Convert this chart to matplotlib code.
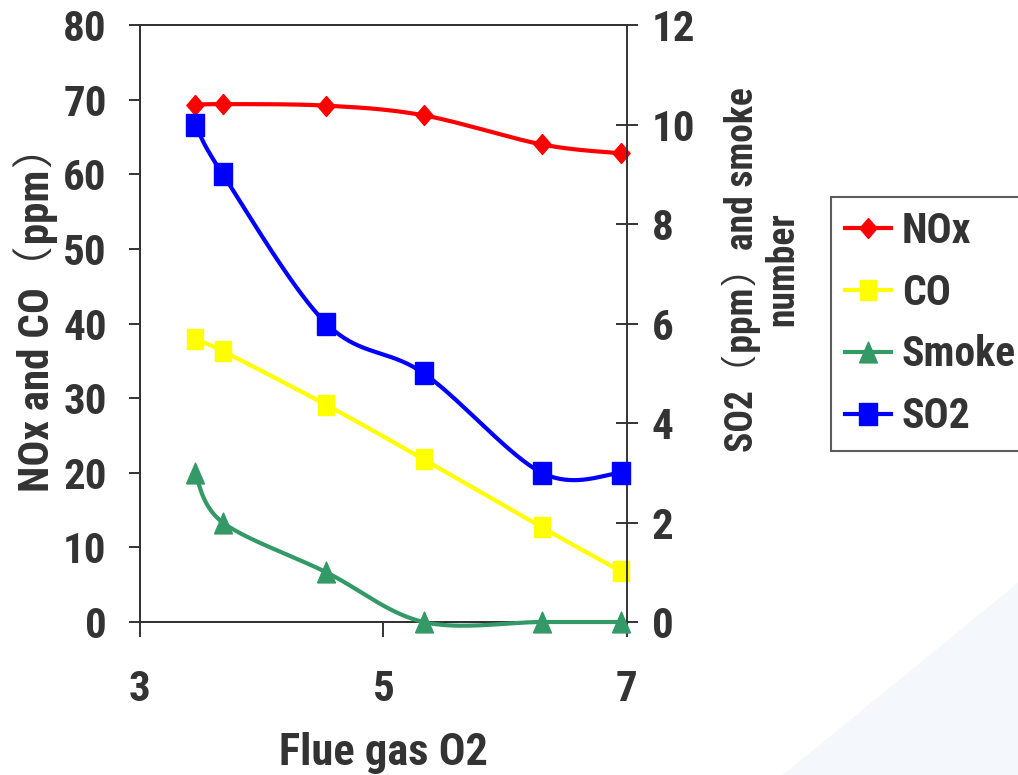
import numpy as np
import matplotlib
matplotlib.use('Agg')
import matplotlib.pyplot as plt
from matplotlib.patches import Polygon

plt.rcParams['font.family'] = ['Roboto Condensed', 'IPAGothic', 'DejaVu Sans']

# data
o2 = [3.45, 3.68, 4.53, 5.33, 6.30, 6.95]
nox = [69.3, 69.4, 69.2, 67.9, 64.0, 62.8]
co = [37.9, 36.3, 29.1, 21.8, 12.7, 6.8]
smoke = [3.0, 2.0, 1.0, 0.0, 0.0, 0.0]
so2 = [10.0, 9.0, 6.0, 5.0, 3.0, 3.0]

left_ticks = list(range(0, 81, 10))
right_ticks = list(range(0, 13, 2))
x_ticks = [3, 5, 7]

ink = '#333333'


def smooth(x, y, n=40):
    # excel style smoothed line (bezier through the points)
    p = np.column_stack([x, y]).astype(float)
    out = []
    t = np.linspace(0, 1, n)[:, None]
    for i in range(len(p) - 1):
        p0 = p[max(i - 1, 0)]
        p1 = p[i]
        p2 = p[i + 1]
        p3 = p[min(i + 2, len(p) - 1)]
        c1 = p1 + (p2 - p0) / 6
        c2 = p2 - (p3 - p1) / 6
        seg = (1 - t) ** 3 * p1 + 3 * (1 - t) ** 2 * t * c1 + 3 * (1 - t) * t ** 2 * c2 + t ** 3 * p2
        out.append(seg if i == 0 else seg[1:])
    s = np.vstack(out)
    return s[:, 0], s[:, 1]


# stretched marker shapes
diamond = [(0, 0.5), (0.43, 0), (0, -0.5), (-0.43, 0), (0, 0.5)]
square = [(-0.41, -0.5), (0.41, -0.5), (0.41, 0.5), (-0.41, 0.5), (-0.41, -0.5)]
tri = [(-0.43, -0.5), (0.43, -0.5), (0, 0.5), (-0.43, -0.5)]

fig = plt.figure(figsize=(10.18, 7.75), dpi=100)
fig.patches.append(Polygon([(0.769, 0), (1, 0.248), (1, 0)], closed=True,
                           transform=fig.transFigure, facecolor='#f4f7fb',
                           edgecolor='none', zorder=-5))

ax = fig.add_axes([0.1375, 0.1974, 0.4784, 0.7703])
ax.patch.set_alpha(0)
ax2 = ax.twinx()

series = [
    (ax, nox, 'NOx', '#ff0000', diamond, 14.4),
    (ax, co, 'CO', '#ffff00', square, 13.7),
    (ax2, smoke, 'Smoke', '#339966', tri, 15),
    (ax2, so2, 'SO2', '#0000ff', square, 16.5),
]
handles = []
for a, vals, name, col, mk, ms in series:
    sx, sy = smooth(o2, vals)
    a.plot(sx, sy, color=col, lw=3, solid_capstyle='round', clip_on=False, zorder=3)
    a.plot(o2, vals, ls='none', marker=mk, ms=ms, color=col, mec=col, clip_on=False, zorder=4)
    h, = a.plot([], [], color=col, lw=3, marker=mk, ms=ms, mec=col, label=name)
    handles.append(h)

ax.set_xlim(3, 7)
ax.set_ylim(0, 80)
ax2.set_ylim(0, 12)
ax.set_xticks(x_ticks)
ax.set_yticks(left_ticks)
ax2.set_yticks(right_ticks)

for a in (ax, ax2):
    for s in a.spines.values():
        s.set_color(ink)
        s.set_linewidth(1.4)
ax.spines['right'].set_visible(False)

ax.tick_params(axis='y', direction='out', length=8, width=1.4, color=ink,
               labelsize=31, labelcolor=ink, pad=16)
ax.tick_params(axis='x', direction='out', length=11, width=1.4, color=ink,
               labelsize=31, labelcolor=ink, pad=23)
ax2.tick_params(axis='y', direction='inout', length=16, width=1.4, color=ink,
                labelsize=31, labelcolor=ink, pad=10)
for lab in ax.get_xticklabels() + ax.get_yticklabels() + ax2.get_yticklabels():
    lab.set_fontweight('bold')

ax.set_xlabel('Flue gas O2', fontsize=32, fontweight='bold', color=ink)
ax.xaxis.set_label_coords(0.5, -0.219)
ax.xaxis.label.set_va('center')

ax.set_ylabel('NOx and CO（ppm）', fontsize=31, fontweight='bold', color=ink)
ax.yaxis.set_label_coords(-0.215, 0.523)
ax.yaxis.label.set_va('center')

ax2.set_ylabel('SO2（ppm）and smoke\nnumber', fontsize=27, fontweight='bold',
               color=ink, rotation=90, linespacing=1.1, multialignment='center')
ax2.yaxis.set_label_coords(1.277, 0.591)
ax2.yaxis.label.set_va('center')
ax2.yaxis.label.set_ha('center')

leg = fig.legend(handles=handles, loc='upper left',
                 bbox_to_anchor=(831 / 1018, 1 - 197 / 775),
                 bbox_transform=fig.transFigure, borderaxespad=0,
                 fontsize=30, frameon=True, fancybox=False, borderpad=0.33,
                 handlelength=1.12, handletextpad=0.25, labelspacing=0.5)
leg.get_frame().set_edgecolor(ink)
leg.get_frame().set_linewidth(1.5)
for t in leg.get_texts():
    t.set_color(ink)
    t.set_fontweight('bold')

fig.savefig('out.png', dpi=100)
